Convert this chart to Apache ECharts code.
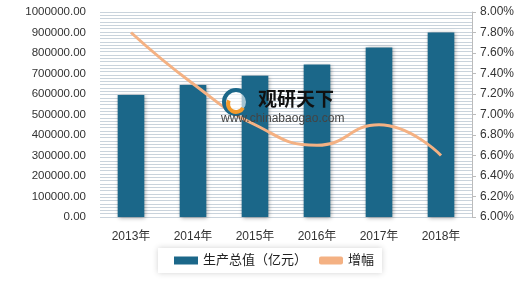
<!DOCTYPE html>
<html><head><meta charset="utf-8">
<script src="https://cdn.jsdelivr.net/npm/echarts@6/dist/echarts.min.js"></script>
<style>html,body{margin:0;padding:0;background:#fff}#c{width:520px;height:285px}</style>
</head><body><div id="c"></div>
<script>
const categories = ['2013年','2014年','2015年','2016年','2017年','2018年'];
const outputValues = [595244, 643974, 689052, 743585, 827122, 900309];
const growthValues = [7.8, 7.3, 6.9, 6.7, 6.9, 6.6];
const barName = '生产总值（亿元）';
const lineName = '增幅';

const chart = echarts.init(document.getElementById('c'));
const font = '"Liberation Sans", "Noto Sans CJK SC", sans-serif';
chart.setOption({
  animation: false,
  textStyle: {fontFamily: font},
  grid: {left: 100, right: 48, top: 12, bottom: 68},
  legend: {
    bottom: 12, left: 158, itemGap: 12, itemWidth: 24, itemHeight: 8,
    backgroundColor: '#fff', shadowColor: 'rgba(0,0,0,0.18)', shadowBlur: 6,
    padding: [6, 8, 6, 16],
    textStyle: {fontSize: 13, color: '#222', fontFamily: font},
    data: [{name: barName, icon: 'rect'}, {name: lineName, icon: 'roundRect', itemStyle:{color:'#F4B183'}}]
  },
  xAxis: {
    type: 'category', data: categories,
    axisLine: {show: false}, axisTick: {show: false},
    axisLabel: {fontSize: 12, color: '#333', margin: 14}
  },
  yAxis: [
    {type: 'value', min: 0, max: 1000000, interval: 100000,
     axisLabel: {formatter: v => v.toFixed(2), fontSize: 11.5, color: '#333', margin: 14},
     axisLine: {show: false}, axisTick: {show: false}, splitLine: {show: false}},
    {type: 'value', min: 6, max: 8, interval: 0.2, position: 'right',
     axisLabel: {formatter: v => v.toFixed(2) + '%', fontSize: 12, color: '#333', margin: 8},
     axisLine: {show: true, lineStyle: {color: '#bbb'}}, axisTick: {show: true, length: 4, lineStyle: {color: '#bbb'}}, splitLine: {show: false}},
    {type: 'value', min: 0, max: 62, interval: 1, position: 'left', show: true,
     axisLabel: {show: false}, axisLine: {show: false}, axisTick: {show: false},
     splitLine: {show: true, lineStyle: {color: '#c9d3dc', width: 1}}}
  ],
  series: [
    {name: barName, type: 'bar', data: outputValues, barWidth: '43%', yAxisIndex: 0,
     itemStyle: {color: '#1B6789', shadowColor: 'rgba(0,0,0,0.35)', shadowBlur: 4, shadowOffsetX: 1, shadowOffsetY: 1}},
    {name: lineName, type: 'line', data: growthValues, yAxisIndex: 1, smooth: true,
     symbol: 'none', lineStyle: {color: '#F4B183', width: 3}, itemStyle: {color: '#F4B183'}}
  ],
  graphic: [
    {type: 'group', left: 222, top: 88, z: 100, children: [
      {type: 'circle', z: 100, shape: {cx: 14, cy: 14, r: 12}, style: {fill: 'rgba(255,255,255,0.6)', stroke: '#1B6789', lineWidth: 4}},
      {type: 'arc', z: 101, shape: {cx: 14, cy: 16, r: 8, startAngle: 0.5, endAngle: 3.6}, style: {stroke: '#F39A2B', lineWidth: 4, fill: 'none'}}
    ]},
    {type: 'text', z: 100, left: 258, top: 89, style: {text: '观研天下', font: 'bold 19px "Noto Sans CJK SC"', fill: '#111'}},
    {type: 'text', z: 100, left: 221, top: 113, style: {text: 'www.chinabaogao.com', font: '12px "Liberation Sans"', fill: '#444'}}
  ]
});
</script></body></html>
